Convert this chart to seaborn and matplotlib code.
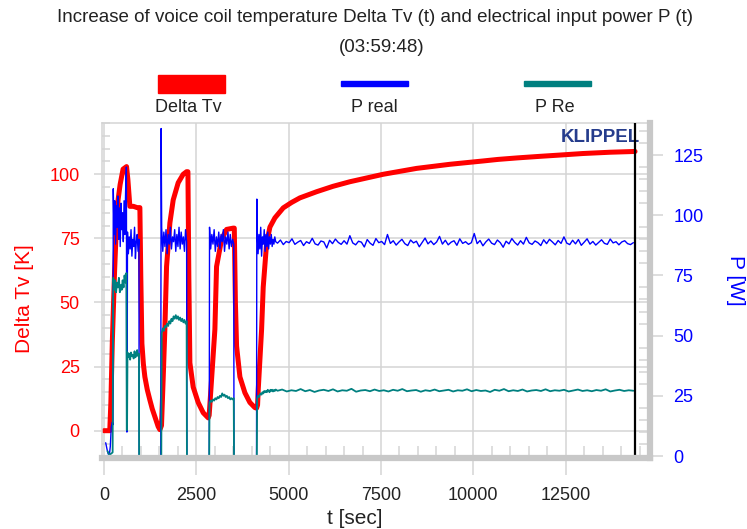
import numpy as np
import pandas as pd
import seaborn as sns
import matplotlib.pyplot as plt
from matplotlib.patches import Rectangle
from matplotlib.ticker import MultipleLocator

# ---- Delta Tv (K) ----
tv_time = [0, 160, 190, 230, 290, 340, 385, 440, 520, 614, 650, 704, 800, 900, 975, 1000, 1030, 1070,
           1110, 1175, 1245, 1310, 1380, 1470, 1516,
           1560, 1605, 1651, 1697, 1787, 1877, 2012, 2147, 2238, 2275, 2300, 2328, 2418, 2553, 2689, 2824,
           2850, 2915, 3005, 3050, 3186, 3321, 3502, 3530, 3560, 3592, 3682, 3817, 3952, 4088, 4133,
           4160, 4178, 4269, 4313, 4404, 4494, 4629, 4855, 5080, 5306, 5758, 6200, 6660, 7560, 8465, 9367,
           10268, 10666, 11200, 11803, 12344, 12967, 13700, 14375]
tv_value = [0, 0, 11, 35, 62, 80, 90, 96, 102, 103, 98, 87.5, 87.5, 87, 87, 60, 34, 26,
            21, 16, 12, 8.5, 5.5, 1.6, 0.4,
            2, 20, 39.5, 64, 81, 90, 96.7, 100, 101, 101, 60, 26.5, 17, 11, 7, 5,
            6, 20, 39.5, 64, 74.6, 78.5, 79, 79, 50, 33, 21, 14.8, 11, 9, 8.8,
            10, 16, 39.5, 56, 73, 79.4, 83, 86.9, 89, 90.8, 93.2, 95.3, 97.1, 100.0, 102.3, 103.9,
            105.2, 105.8, 106.4, 107.0, 107.5, 108.1, 108.6, 108.9]

# ---- power traces: blocks while the amplifier is on (start / end in sec) ----
block_start = [255, 640, 1565, 2860, 4150, 4700]
block_end = [610, 950, 2240, 3515, 4650, 14330]

p_real_blocks = [
    [111, 92, 106, 88, 104, 95, 108, 90, 103, 87, 105, 94, 101, 89, 106, 92, 110, 120],
    [93, 84, 91, 86, 94, 83, 90, 87, 95, 82, 89, 92, 85, 90],
    [95, 85, 93, 87, 94, 84, 92, 88, 95, 86, 91, 89, 94, 85, 92, 87, 95, 86, 93, 88, 91, 85, 94, 89],
    [95, 86, 92, 88, 94, 85, 91, 87, 93, 86, 92, 89, 94, 85, 91, 88, 93, 86, 92, 87, 90, 88],
    [94, 84, 92, 86, 95, 83, 91, 88, 94, 85, 92, 87, 93, 86, 91, 88, 92, 87, 90, 88, 91, 89],
    [88.4, 89.7, 87.8, 89.1, 88.6, 90.2, 87.9, 88.8, 89.5, 87.4,
     89.0, 88.3, 90.4, 88.1, 87.6, 89.3, 88.9, 86.4, 89.6, 88.2,
     90.1, 88.7, 87.9, 89.4, 88.0, 91.5, 88.5, 87.7, 89.2, 88.8,
     86.8, 89.9, 88.4, 87.5, 90.3, 88.6, 89.1, 87.8, 92.0, 88.3,
     89.4, 87.6, 88.9, 90.0, 88.2, 87.4, 89.7, 88.5, 89.2, 86.9,
     88.7, 90.5, 88.1, 89.3, 87.8, 88.9, 91.2, 88.0, 89.6, 87.7,
     88.8, 89.4, 87.5, 90.2, 88.3, 89.0, 87.9, 88.6, 92.4, 88.2,
     89.5, 87.3, 88.9, 90.1, 88.4, 87.8, 89.7, 88.6, 86.7, 89.2,
     88.1, 90.3, 88.7, 87.6, 89.4, 88.0, 90.8, 88.5, 87.9, 89.3,
     88.6, 87.4, 89.8, 88.2, 90.0, 88.9, 87.7, 89.5, 88.3, 91.0,
     88.4, 87.8, 89.6, 88.1, 89.9, 87.5, 88.8, 90.2, 88.0, 89.1,
     87.6, 88.7, 89.8, 88.3, 87.9, 90.1, 88.5, 89.0, 87.7, 88.9,
     89.4, 88.2, 87.8, 88.6],
]
p_re_blocks = [
    [74, 69, 73, 68, 72, 70, 74, 68, 71, 69, 73, 70, 75, 72, 76],
    [43, 41, 42.5, 40, 43, 41.5, 42, 40.5, 43.5, 41, 42, 44, 41.5, 42.5],
    [51, 53, 52, 54, 53.5, 55, 54, 56, 55, 57, 56, 58, 57, 58.5, 57, 58, 56.5, 57.5, 56, 57, 55.5, 56.5, 55, 56],
    [22, 23, 22.5, 23.5, 23, 24, 23.5, 24.5, 24, 25, 24.5, 26, 25, 25.5, 24.5, 25, 24, 24.5, 23.5, 24, 23.5, 24],
    [24, 25, 24.5, 25.5, 26, 25.5, 26.5, 26, 27, 26.5, 27, 26.5, 27.5, 27, 26.5, 27.5, 27, 27.5, 26.8, 27.4, 27.0, 27.6],
    [27.1, 27.6, 26.8, 27.3, 27.0, 27.8, 26.9, 27.4, 26.6, 27.2,
     27.5, 27.0, 27.7, 26.8, 27.3, 27.1, 27.9, 26.7, 27.2, 27.4,
     26.9, 27.6, 27.0, 27.3, 26.8, 27.5, 27.1, 27.8, 26.9, 27.2,
     27.4, 26.7, 27.3, 27.0, 27.6, 26.9, 27.2, 27.5, 26.8, 27.3,
     27.1, 27.7, 26.9, 27.4, 27.0, 27.2, 26.6, 27.5, 27.1, 27.8,
     26.9, 27.3, 27.0, 27.6, 26.8, 27.2, 27.4, 27.0, 27.7, 26.9,
     27.3, 27.1, 27.5, 26.8, 27.2, 27.6, 27.0, 27.3, 26.9, 27.4,
     27.1, 27.7, 26.8, 27.2, 27.5, 27.0, 27.3, 27.1],
]

# switching edges / idle parts between the blocks
edge_time_real = [50, 90, 120, 150, 175, 200, 230, 248, 620, 628, 955, 1540, 1550, 2248, 2852, 3522, 4132, 4140]
edge_p_real = [5.5, 2.5, 0.8, 0.5, 4.0, 12, 14, 13, 10, 10, 0, 0, 136, 0, 0, 0, 0, 106.7]
edge_time_re = [100, 150, 200, 238, 620, 628, 955, 1555, 2248, 2852, 3522, 4140]
edge_p_re = [2, 0.5, 1, 1.5, 10.8, 10.8, 0, 0, 0, 0, 0, 0]

t_end = 14375


def build(blocks, edge_t, edge_p):
    t = list(edge_t)
    p = list(edge_p)
    for s, e, vals in zip(block_start, block_end, blocks):
        t += list(np.linspace(s, e, len(vals)))
        p += list(vals)
    return pd.DataFrame({'t': t, 'p': p}).sort_values('t')


df_tv = pd.DataFrame({'t': tv_time, 'v': tv_value})
df_real = build(p_real_blocks, edge_time_real, edge_p_real)
df_re = build(p_re_blocks, edge_time_re, edge_p_re)

sns.set_theme(style='white')
plt.rcParams['font.family'] = ['Liberation Sans', 'DejaVu Sans']

W, H = 747, 529
fig = plt.figure(figsize=(W / 100, H / 100), dpi=100)
fig.patch.set_facecolor('white')

grid_c = '#d4d4d4'
band_c = '#c8c8c8'

ax = fig.add_axes([102 / W, 1 - 458 / H, 548 / W, 335 / H])
ax2 = ax.twinx()

sns.lineplot(data=df_tv, x='t', y='v', ax=ax, color='#ff0000', lw=3.6, estimator=None, sort=False)
sns.lineplot(data=df_real, x='t', y='p', ax=ax2, color='#0000ff', lw=1.0, estimator=None, sort=False)
sns.lineplot(data=df_re, x='t', y='p', ax=ax2, color='#008080', lw=1.3, estimator=None, sort=False)
ax2.axvline(t_end, color='black', lw=1.6, zorder=3)

ax.set_xlim(-50, 14780)
ax.set_ylim(-10.65, 120.0)
ax2.set_ylim(-0.83, 138.3)

# grid + ticks
ax.xaxis.set_major_locator(MultipleLocator(2500))
ax.xaxis.set_minor_locator(MultipleLocator(500))
ax.yaxis.set_major_locator(MultipleLocator(25))
ax.yaxis.set_minor_locator(MultipleLocator(5))
ax2.yaxis.set_major_locator(MultipleLocator(25))
ax2.yaxis.set_minor_locator(MultipleLocator(5))
ax.grid(True, which='major', color=grid_c, lw=1.1)
ax2.grid(False)

ax.tick_params(axis='x', which='major', direction='out', length=12, width=1.1, color=grid_c,
               labelsize=13, labelcolor='#222222', pad=9, bottom=True)
ax.tick_params(axis='x', which='minor', direction='in', length=9, width=1.1, color=grid_c, bottom=True)
ax.tick_params(axis='y', which='major', direction='out', length=6, width=1.1, color=grid_c,
               labelsize=13, labelcolor='#ff0000', pad=10, left=True)
ax.tick_params(axis='y', which='minor', direction='in', length=6, width=1.1, color=grid_c, left=True)
ax2.tick_params(axis='y', which='major', direction='out', length=9, width=1.1, color=grid_c,
                labelsize=13, labelcolor='#0000ff', pad=8, right=True)
ax2.tick_params(axis='y', which='minor', direction='in', length=8, width=1.1, color=grid_c, right=True)

for s in ['left', 'top']:
    ax.spines[s].set_color(grid_c)
    ax.spines[s].set_linewidth(1.1)
for s in ['bottom', 'right']:
    ax.spines[s].set_visible(False)
ax2.spines['left'].set_visible(False)
ax2.spines['top'].set_visible(False)
for s in ['bottom', 'right']:
    ax2.spines[s].set_color(band_c)
    ax2.spines[s].set_linewidth(4.5)
    ax2.spines[s].set_zorder(4)

ax.set_xlabel('t [sec]', fontsize=15, color='#222222', va='center')
ax.xaxis.set_label_coords((355 - 102) / 548, (458 - 519) / 335)
ax.set_ylabel('Delta Tv [K]', fontsize=15, color='#ff0000', va='center')
ax.yaxis.set_label_coords((24 - 102) / 548, (458 - 299) / 335)
ax2.set_ylabel('P [W]', fontsize=15, color='#0000ff', rotation=-90, va='center')
ax2.yaxis.set_label_coords((735 - 102) / 548, (458 - 280) / 335)

ax.text(0.982, 0.958, 'KLIPPEL', transform=ax.transAxes, ha='right', va='center',
        fontsize=13.5, fontweight='bold', color='#253c8c', zorder=5)

# title
fig.text(375 / W, 1 - 18 / H, 'Increase of voice coil temperature Delta Tv (t) and electrical input power P (t)',
         ha='center', va='center', fontsize=13.5, color='#222222')
fig.text(382 / W, 1 - 48 / H, '(03:59:48)', ha='center', va='center', fontsize=13.5, color='#222222')

# legend drawn above the plot
leg = [('Delta Tv', '#ff0000', 158, 75, 18, 188),
       ('P real', '#0000ff', 341, 81, 5, 374),
       ('P Re', '#008080', 524, 81, 5, 555)]
for lab, col, x0, y0, h, xc in leg:
    fig.add_artist(Rectangle((x0 / W, 1 - (y0 + h) / H), 67 / W, h / H, color=col,
                             transform=fig.transFigure))
    fig.text(xc / W, 1 - 108 / H, lab, ha='center', va='center', fontsize=13, color='#222222')

fig.savefig('out.png', dpi=100)
